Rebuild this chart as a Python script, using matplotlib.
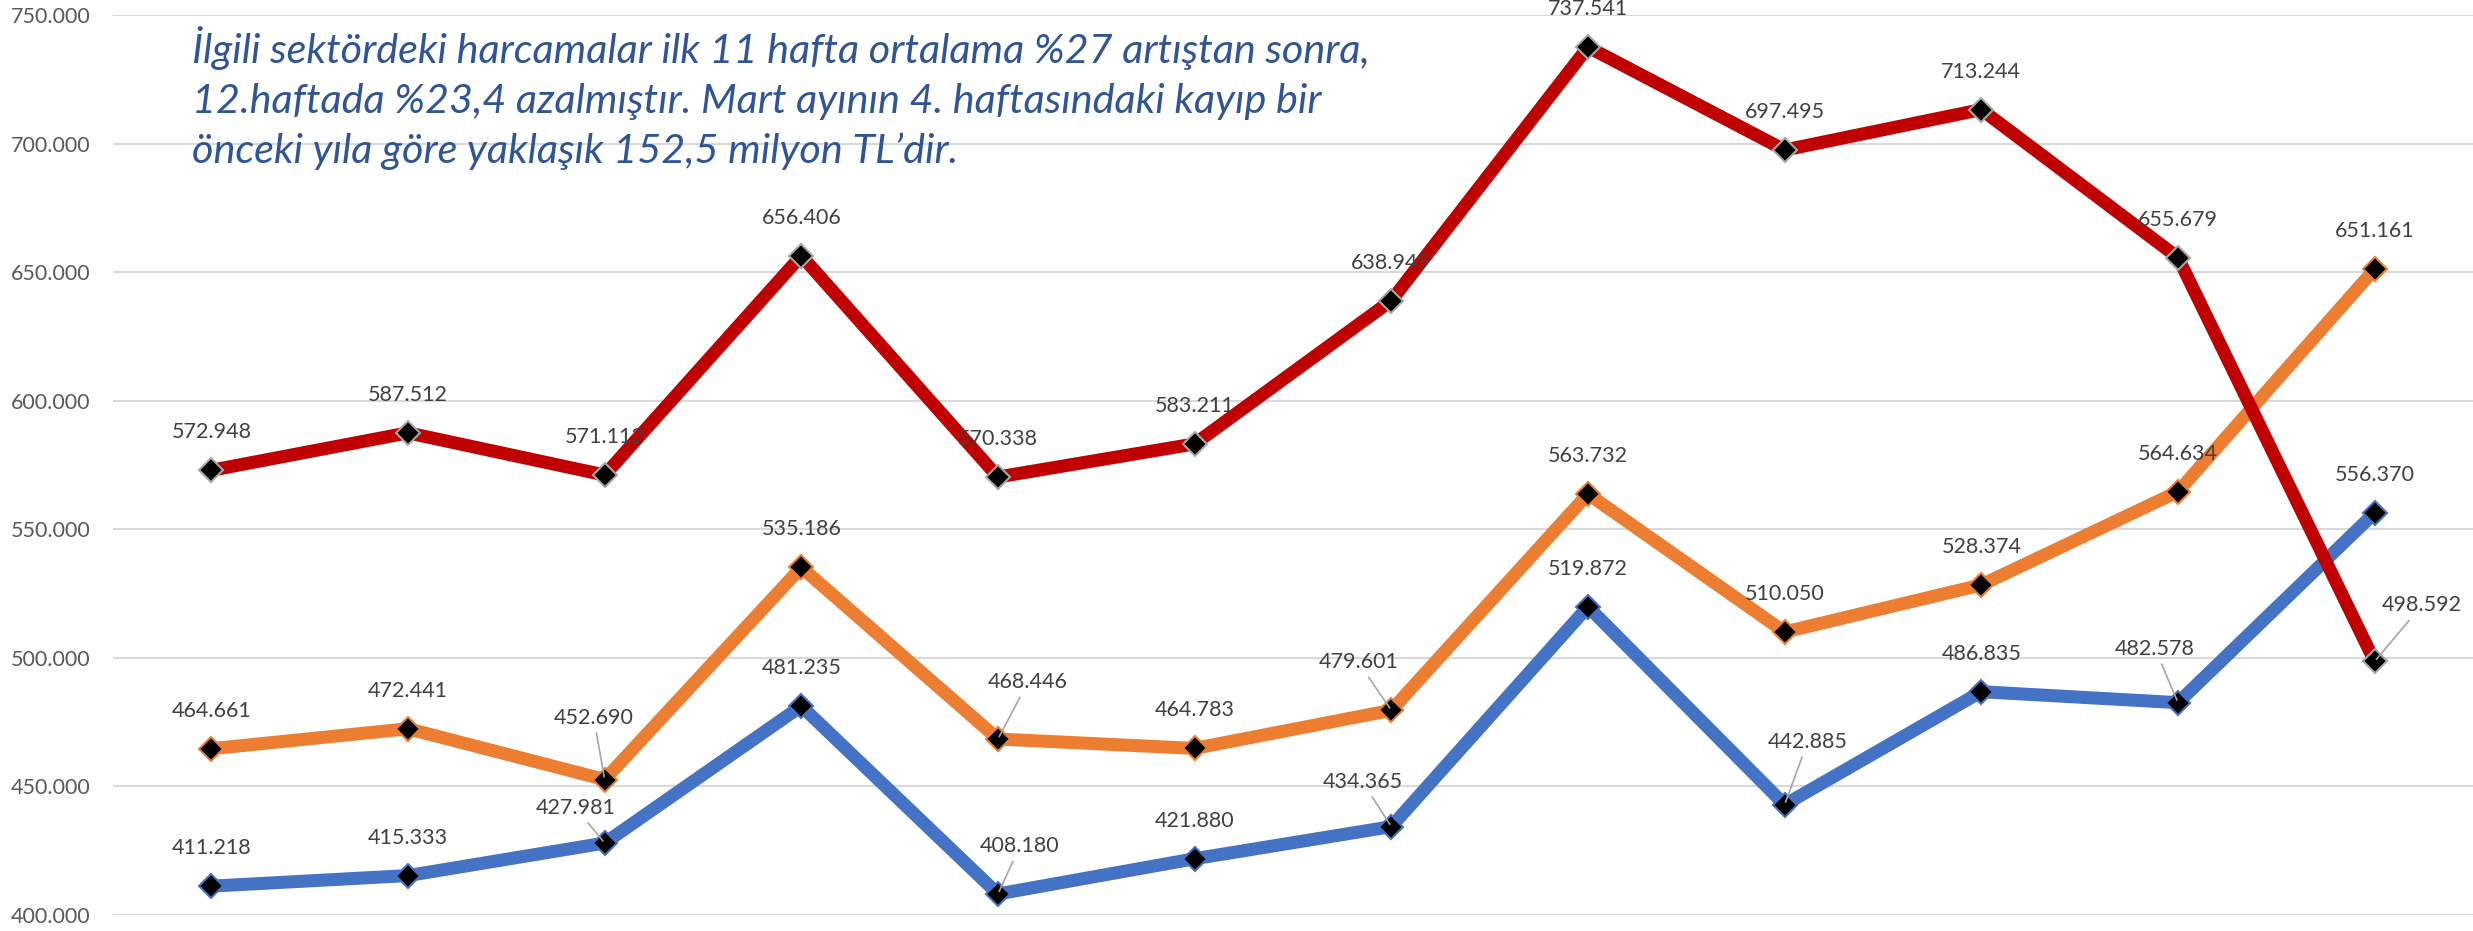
import matplotlib
matplotlib.use("Agg")
import matplotlib.pyplot as plt
from matplotlib.ticker import FuncFormatter

# haftalar (1..12)
weeks = list(range(1, 13))

mavi = [411218, 415333, 427981, 481235, 408180, 421880,
        434365, 519872, 442885, 486835, 482578, 556370]
turuncu = [464661, 472441, 452690, 535186, 468446, 464783,
           479601, 563732, 510050, 528374, 564634, 651161]
kirmizi = [572948, 587512, 571112, 656406, 570338, 583211,
           638949, 737541, 697495, 713244, 655679, 498592]

# etiket kaydirmalari (piksel, x sag / y yukari) - leader line olanlar
mavi_off = {3: (-29, 35), 5: (22, 48), 7: (-29, 45), 9: (23, 63), 11: (-23, 54)}
turuncu_off = {3: (-11, 62), 5: (30, 57), 7: (-33, 48)}
kirmizi_off = {12: (47, 56)}

metin = ["İlgili sektördeki harcamalar ilk 11 hafta ortalama %27 artıştan sonra,",
         "12.haftada %23,4 azalmıştır. Mart ayının 4. haftasındaki kayıp bir",
         "önceki yıla göre yaklaşık 152,5 milyon TL’dir."]

DPI = 100
fig = plt.figure(figsize=(24.73, 9.31), dpi=DPI)
ax = fig.add_axes([113 / 2473, 16 / 931, 2360 / 2473, 900 / 931])

px = 72 / DPI  # piksel -> punto


def fmt(v):
    return f"{v:,}".replace(",", ".")


series = [
    (mavi, "#4472C4", "#4472C4", mavi_off),
    (turuncu, "#ED7D31", "#ED7D31", turuncu_off),
    (kirmizi, "#C00000", "#A6A6A6", kirmizi_off),
]

z = 3
for vals, col, edge, offs in series:
    ax.plot(weeks, vals, color=col, lw=13 * px, zorder=z, solid_joinstyle="miter")
    ax.plot(weeks, vals, ls="none", marker="D", ms=12.5, mfc="black",
            mec=edge, mew=1.5, zorder=z + 0.5)
    z += 1

# etiketler cizgilerin ustunde
for vals, col, edge, offs in series:
    for w, v in zip(weeks, vals):
        if w in offs:
            dx, dy = offs[w]
            ax.annotate(fmt(v), (w, v), xytext=(dx * px, dy * px),
                        textcoords="offset points", ha="center", va="center",
                        fontsize=15.5, color="#404040", family="Lato",
                        zorder=10, annotation_clip=False,
                        arrowprops=dict(arrowstyle="-", color="#A6A6A6", lw=1.2,
                                        shrinkA=2, shrinkB=2))
        else:
            ax.annotate(fmt(v), (w, v), xytext=(0, 38 * px),
                        textcoords="offset points", ha="center", va="center",
                        fontsize=15.5, color="#404040", family="Lato",
                        zorder=10, annotation_clip=False)

ax.set_xlim(0.5, 12.5)
ax.set_ylim(400000, 750000)
ax.set_yticks(range(400000, 750001, 50000))
ax.yaxis.set_major_formatter(FuncFormatter(lambda v, p: fmt(int(v))))
ax.set_xticks([])
ax.tick_params(axis="y", length=0, pad=16, labelsize=15.5, labelcolor="#595959")
for lbl in ax.get_yticklabels():
    lbl.set_family("Lato")
ax.grid(axis="y", color="#D9D9D9", lw=1.5, zorder=0)
ax.set_axisbelow(True)
for s in ax.spines.values():
    s.set_visible(False)

for i, line in enumerate(metin):
    fig.text(192 / 2473, 1 - (63 + 50 * i) / 931, line, fontsize=29.8,
             style="italic", family="Lato", color="#2F5597", va="baseline")

fig.savefig("out.png", dpi=DPI)
